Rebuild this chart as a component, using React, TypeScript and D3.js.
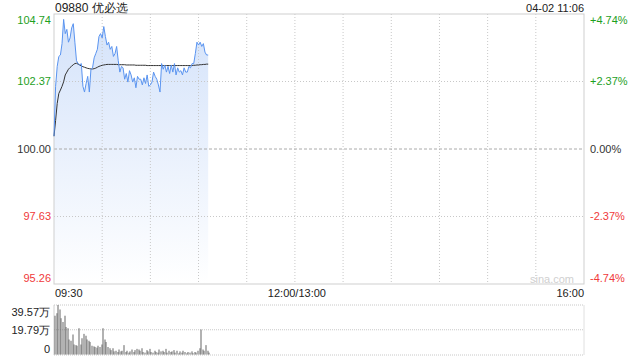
import React from "react";
import * as d3 from "d3";

const title = "09880 优必选";
const dateLabel = "04-02 11:06";
const prevClose = 100.0;
const priceTicks = [104.74, 102.37, 100.0, 97.63, 95.26];
const pctTicks = ["+4.74%", "+2.37%", "0.00%", "-2.37%", "-4.74%"];
const timeLabels = ["09:30", "12:00/13:00", "16:00"];
const volTicks = ["39.57万", "19.79万", "0"];
const volMax = 39.57;

// one value per minute from 09:30
const prices = [
  100.45, 102.2, 102.9, 103.25, 103.3, 103.7, 104.55, 104.05, 104.2, 103.75,
  103.9, 104.25, 104.4, 103.75, 103.1, 103.0, 102.95, 103.0, 102.2, 102.0,
  102.3, 102.55, 102.0, 102.8, 102.85, 103.2, 103.35, 103.5, 103.95, 104.05,
  103.9, 104.3, 103.95, 103.65, 103.75, 103.5, 103.6, 103.25, 103.35, 103.6,
  103.1, 102.7, 102.9, 102.85, 102.45, 102.65, 102.35, 102.75, 102.6, 102.35,
  102.5, 102.15, 102.55, 102.45, 102.45, 102.25, 102.5, 102.3, 102.6, 102.2,
  102.25, 102.35, 102.7, 102.55, 102.45, 102.25, 102.0, 103.0, 102.8, 102.95,
  102.7, 102.9, 102.65, 102.95, 102.7, 103.0, 102.6, 102.85, 102.7, 102.75,
  102.6, 102.85, 102.7, 102.7, 102.9, 102.85, 103.0, 103.0, 103.35, 103.75,
  103.65, 103.75, 103.6, 103.7, 103.4, 103.3, 103.3,
];

const avgPrices = [
  100.45, 101.0, 101.6, 101.95, 102.07, 102.2, 102.36, 102.6, 102.7, 102.8,
  102.86, 102.91, 102.96, 103.0, 103.01, 102.98, 102.95, 102.92, 102.89, 102.87,
  102.85, 102.83, 102.82, 102.81, 102.81, 102.82, 102.84, 102.87, 102.9, 102.92,
  102.94, 102.95, 102.96, 102.97, 102.97, 102.97, 102.97, 102.97, 102.97, 102.97,
  102.96, 102.96, 102.96, 102.96, 102.96, 102.95, 102.95, 102.95, 102.95, 102.95,
  102.95, 102.94, 102.94, 102.94, 102.94, 102.94, 102.94, 102.94, 102.93, 102.93,
  102.93, 102.93, 102.93, 102.93, 102.93, 102.93, 102.93, 102.93, 102.93, 102.93,
  102.93, 102.93, 102.93, 102.93, 102.93, 102.93, 102.93, 102.93, 102.93, 102.93,
  102.93, 102.93, 102.93, 102.93, 102.93, 102.93, 102.93, 102.94, 102.94, 102.95,
  102.95, 102.96, 102.96, 102.97, 102.97, 102.98, 102.98,
];

// volume in 万
const volumes = [
  31, 33, 39.57, 36, 29, 26, 31, 22, 21, 12,
  11, 16, 8, 7.5, 7, 21, 8, 13, 16.5, 15,
  12, 11, 10, 7, 6.5, 6, 5.5, 7, 6, 8,
  21, 12, 10, 6, 5, 3.5, 5, 2.5, 3, 2,
  4, 2.5, 3, 7.5, 2, 3, 1.5, 2.5, 4, 2,
  3.5, 4.5, 4, 3, 5, 2, 1.5, 3.5, 2.5, 4.5,
  2, 1.5, 3, 2, 1.5, 4, 2.5, 3, 2, 4.5,
  1.5, 3, 2, 2.5, 3.5, 1.5, 3, 1, 2.5, 1.5,
  3, 2, 1, 2, 1.5, 2.5, 1, 2, 1.5, 3,
  5, 20, 4, 3, 7.5, 3, 1.5,
];

const L = 54;
const R = 584;
const T = 14;
const B = 284;
const VT = 305;
const VB = 354.5;

const GREEN = "#1ea01e";
const RED = "#f03a3a";
const FONT = "'Liberation Sans', Arial, sans-serif";

export default function App() {
  const x = d3.scaleLinear().domain([0, 330]).range([L, R]);
  const y = d3.scaleLinear().domain([priceTicks[4], priceTicks[0]]).range([B, T]);
  const yv = d3.scaleLinear().domain([0, volMax]).range([VB, VT]);

  const line = d3
    .line<number>()
    .x((_, i) => x(i))
    .y((d) => y(d));
  const area = d3
    .area<number>()
    .x((_, i) => x(i))
    .y0(B)
    .y1((d) => y(d));

  const vGrid = d3.range(1, 11).map((k) => x(k * 30));
  const labelColor = (v: number) => (v > prevClose ? GREEN : v < prevClose ? RED : "#333");

  return (
    <svg
      width={640}
      height={360}
      style={{ position: "absolute", left: 0, top: 0, background: "#fff" }}
      fontFamily={FONT}
    >
      <defs>
        <linearGradient id="fillGrad" gradientUnits="userSpaceOnUse" x1="0" y1={T} x2="0" y2={B}>
          <stop offset="0" stopColor="#d3e2fa" />
          <stop offset="1" stopColor="#ffffff" />
        </linearGradient>
      </defs>

      {/* title */}
      <text x={55} y={12} fontSize={12} fill="#222">
        {title}
      </text>
      <text x={R} y={12} fontSize={11} fill="#222" textAnchor="end">
        {dateLabel}
      </text>

      {/* area */}
      <path d={area(prices) || ""} fill="url(#fillGrad)" />

      {/* vertical grid */}
      {vGrid.map((gx, i) => (
        <line key={i} x1={gx} x2={gx} y1={T} y2={B} stroke="#c8c8c8" strokeDasharray="1,2" />
      ))}
      {/* horizontal grid */}
      {[priceTicks[1], priceTicks[3]].map((v, i) => (
        <line key={i} x1={L} x2={R} y1={y(v)} y2={y(v)} stroke="#c8c8c8" strokeDasharray="1,2" />
      ))}
      <line x1={L} x2={R} y1={y(prevClose)} y2={y(prevClose)} stroke="#aaa" strokeDasharray="3,2" />

      {/* border */}
      <rect x={L} y={T} width={R - L} height={B - T} fill="none" stroke="#cfcfcf" />

      {/* price & avg lines */}
      <path d={line(avgPrices) || ""} fill="none" stroke="#333" strokeWidth={1} />
      <path d={line(prices) || ""} fill="none" stroke="#5a94f0" strokeWidth={1} />

      {/* left labels */}
      {priceTicks.map((v, i) => {
        const yy = i === 0 ? y(v) + 6 : i === priceTicks.length - 1 ? y(v) - 6 : y(v);
        return (
          <text key={i} x={51} y={yy} dy="0.35em" fontSize={11} textAnchor="end" fill={labelColor(v)}>
            {v.toFixed(2)}
          </text>
        );
      })}
      {/* right labels */}
      {priceTicks.map((v, i) => {
        const yy = i === 0 ? y(v) + 6 : i === priceTicks.length - 1 ? y(v) - 6 : y(v);
        return (
          <text key={i} x={590} y={yy} dy="0.35em" fontSize={11} fill={labelColor(v)}>
            {pctTicks[i]}
          </text>
        );
      })}

      {/* watermark */}
      <text x={574} y={279} dy="0.35em" fontSize={11} textAnchor="end" fill="#d0d0d0">
        sina.com
      </text>

      {/* time labels */}
      <text x={L + 1} y={293} dy="0.35em" fontSize={11} fill="#222">
        {timeLabels[0]}
      </text>
      <text x={x(150) + 2} y={293} dy="0.35em" fontSize={11} fill="#222" textAnchor="middle">
        {timeLabels[1]}
      </text>
      <text x={R} y={293} dy="0.35em" fontSize={11} fill="#222" textAnchor="end">
        {timeLabels[2]}
      </text>

      {/* volume panel */}
      <line x1={L} x2={R} y1={VT} y2={VT} stroke="#c8c8c8" strokeDasharray="1,1" />
      <line x1={L} x2={R} y1={yv(volMax / 2)} y2={yv(volMax / 2)} stroke="#c8c8c8" strokeDasharray="1,1" />
      <line x1={L} x2={R} y1={355} y2={355} stroke="#c8c8c8" strokeDasharray="1,1" />
      <line x1={L} x2={L} y1={VT} y2={355} stroke="#d0d0d0" />
      <line x1={R} x2={R} y1={VT} y2={355} stroke="#e0e0e0" />
      {volumes.map((v, i) => (
        <rect
          key={i}
          x={Math.round(x(i)) + 0.5}
          y={yv(v)}
          width={1}
          height={VB - yv(v)}
          fill="#666"
        />
      ))}
      {volTicks.map((t, i) => {
        const yy = i === 0 ? 312 : i === 1 ? yv(volMax / 2) : 349.5;
        return (
          <text key={i} x={50} y={yy} dy="0.35em" fontSize={11} textAnchor="end" fill="#222">
            {t}
          </text>
        );
      })}
    </svg>
  );
}
